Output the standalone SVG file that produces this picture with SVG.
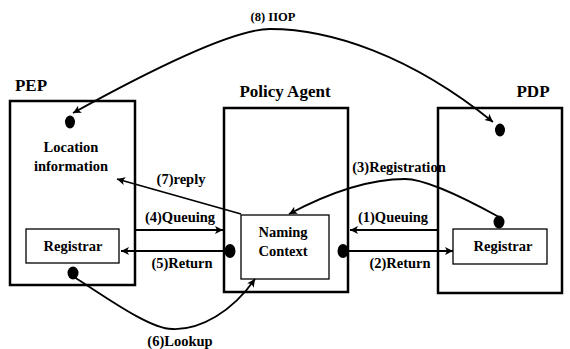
<svg xmlns="http://www.w3.org/2000/svg" width="570" height="349" viewBox="0 0 570 349" font-family="'Liberation Serif', 'Times New Roman', Times, serif">
<style>
text{font-family:'Liberation Serif','Times New Roman',Times,serif;font-weight:bold;fill:#000}
.t{font-size:17px}
.l{font-size:14.5px}
.outer{fill:none;stroke:#000;stroke-width:2.5}
.inner{fill:#fff;stroke:#000;stroke-width:1.3}
.c{fill:none;stroke:#000;stroke-width:1.8}
.dot{fill:#000}
</style>
<defs>
<marker id="ah" viewBox="0 0 10 10" refX="10" refY="5" markerWidth="10" markerHeight="8" orient="auto-start-reverse" markerUnits="userSpaceOnUse">
<path d="M0,0 L10,5 L0,10 L2.5,5 z" fill="#000"/>
</marker>
</defs>
<rect width="570" height="349" fill="#fff"/>
<g id="pep">
<text class="t" x="31" y="91" text-anchor="middle">PEP</text>
<rect class="outer" x="10" y="101" width="125" height="184"/>
<text class="l" x="71" y="152" text-anchor="middle">Location</text>
<text class="l" x="71" y="171" text-anchor="middle">information</text>
<ellipse class="dot" cx="70" cy="122" rx="5" ry="6.5"/>
</g>
<g id="pep-registrar">
<rect class="inner" x="26" y="229" width="93" height="34"/>
<text class="l" x="73" y="251" text-anchor="middle">Registrar</text>
<ellipse class="dot" cx="73" cy="273" rx="5.5" ry="6.5"/>
</g>
<g id="policy-agent">
<text class="t" x="285" y="97" text-anchor="middle">Policy Agent</text>
<rect class="outer" x="224" y="108" width="124" height="184"/>
<ellipse class="dot" cx="230" cy="251" rx="5.5" ry="7"/>
<ellipse class="dot" cx="343" cy="251" rx="5.5" ry="7"/>
</g>
<g id="naming-context">
<rect class="inner" x="241" y="215" width="88" height="64"/>
<text class="l" x="283" y="237" text-anchor="middle">Naming</text>
<text class="l" x="283" y="256" text-anchor="middle">Context</text>
</g>
<g id="pdp">
<text class="t" x="533" y="97" text-anchor="middle">PDP</text>
<rect class="outer" x="438" y="108" width="124" height="185"/>
<ellipse class="dot" cx="500" cy="130" rx="5" ry="6.5"/>
</g>
<g id="pdp-registrar">
<rect class="inner" x="453" y="229" width="94" height="35"/>
<text class="l" x="503" y="251" text-anchor="middle">Registrar</text>
<ellipse class="dot" cx="499" cy="222" rx="5.5" ry="6.5"/>
</g>
<g id="connectors">
<path class="c" d="M73 113 Q225 29 270 29 C330 29 410 55 493 122" marker-start="url(#ah)" marker-end="url(#ah)"/>
<text x="273" y="21" text-anchor="middle" style="font-size:12.5px">(8) IIOP</text>
<path class="c" d="M499 217 Q430 179 405 179 Q355 179 289 214" marker-end="url(#ah)"/>
<text class="l" x="399" y="172" text-anchor="middle">(3)Registration</text>
<path class="c" d="M241 214 L117 179" marker-end="url(#ah)"/>
<text class="l" x="181" y="184" text-anchor="middle">(7)reply</text>
<path class="c" d="M135 230 L223 230" marker-end="url(#ah)"/>
<text class="l" x="180" y="222" text-anchor="middle">(4)Queuing</text>
<path class="c" d="M230 251 L121 251" marker-end="url(#ah)"/>
<text class="l" x="182" y="268" text-anchor="middle">(5)Return</text>
<path class="c" d="M437 230 L350 230" marker-end="url(#ah)"/>
<text class="l" x="393" y="222" text-anchor="middle">(1)Queuing</text>
<path class="c" d="M343 251 L453 251" marker-end="url(#ah)"/>
<text class="l" x="400" y="268" text-anchor="middle">(2)Return</text>
<path class="c" d="M74 277 C100 293 150 330 173 329 C200 330 232 312 255 279" marker-end="url(#ah)"/>
<text class="l" x="180" y="346" text-anchor="middle">(6)Lookup</text>
</g>
</svg>
